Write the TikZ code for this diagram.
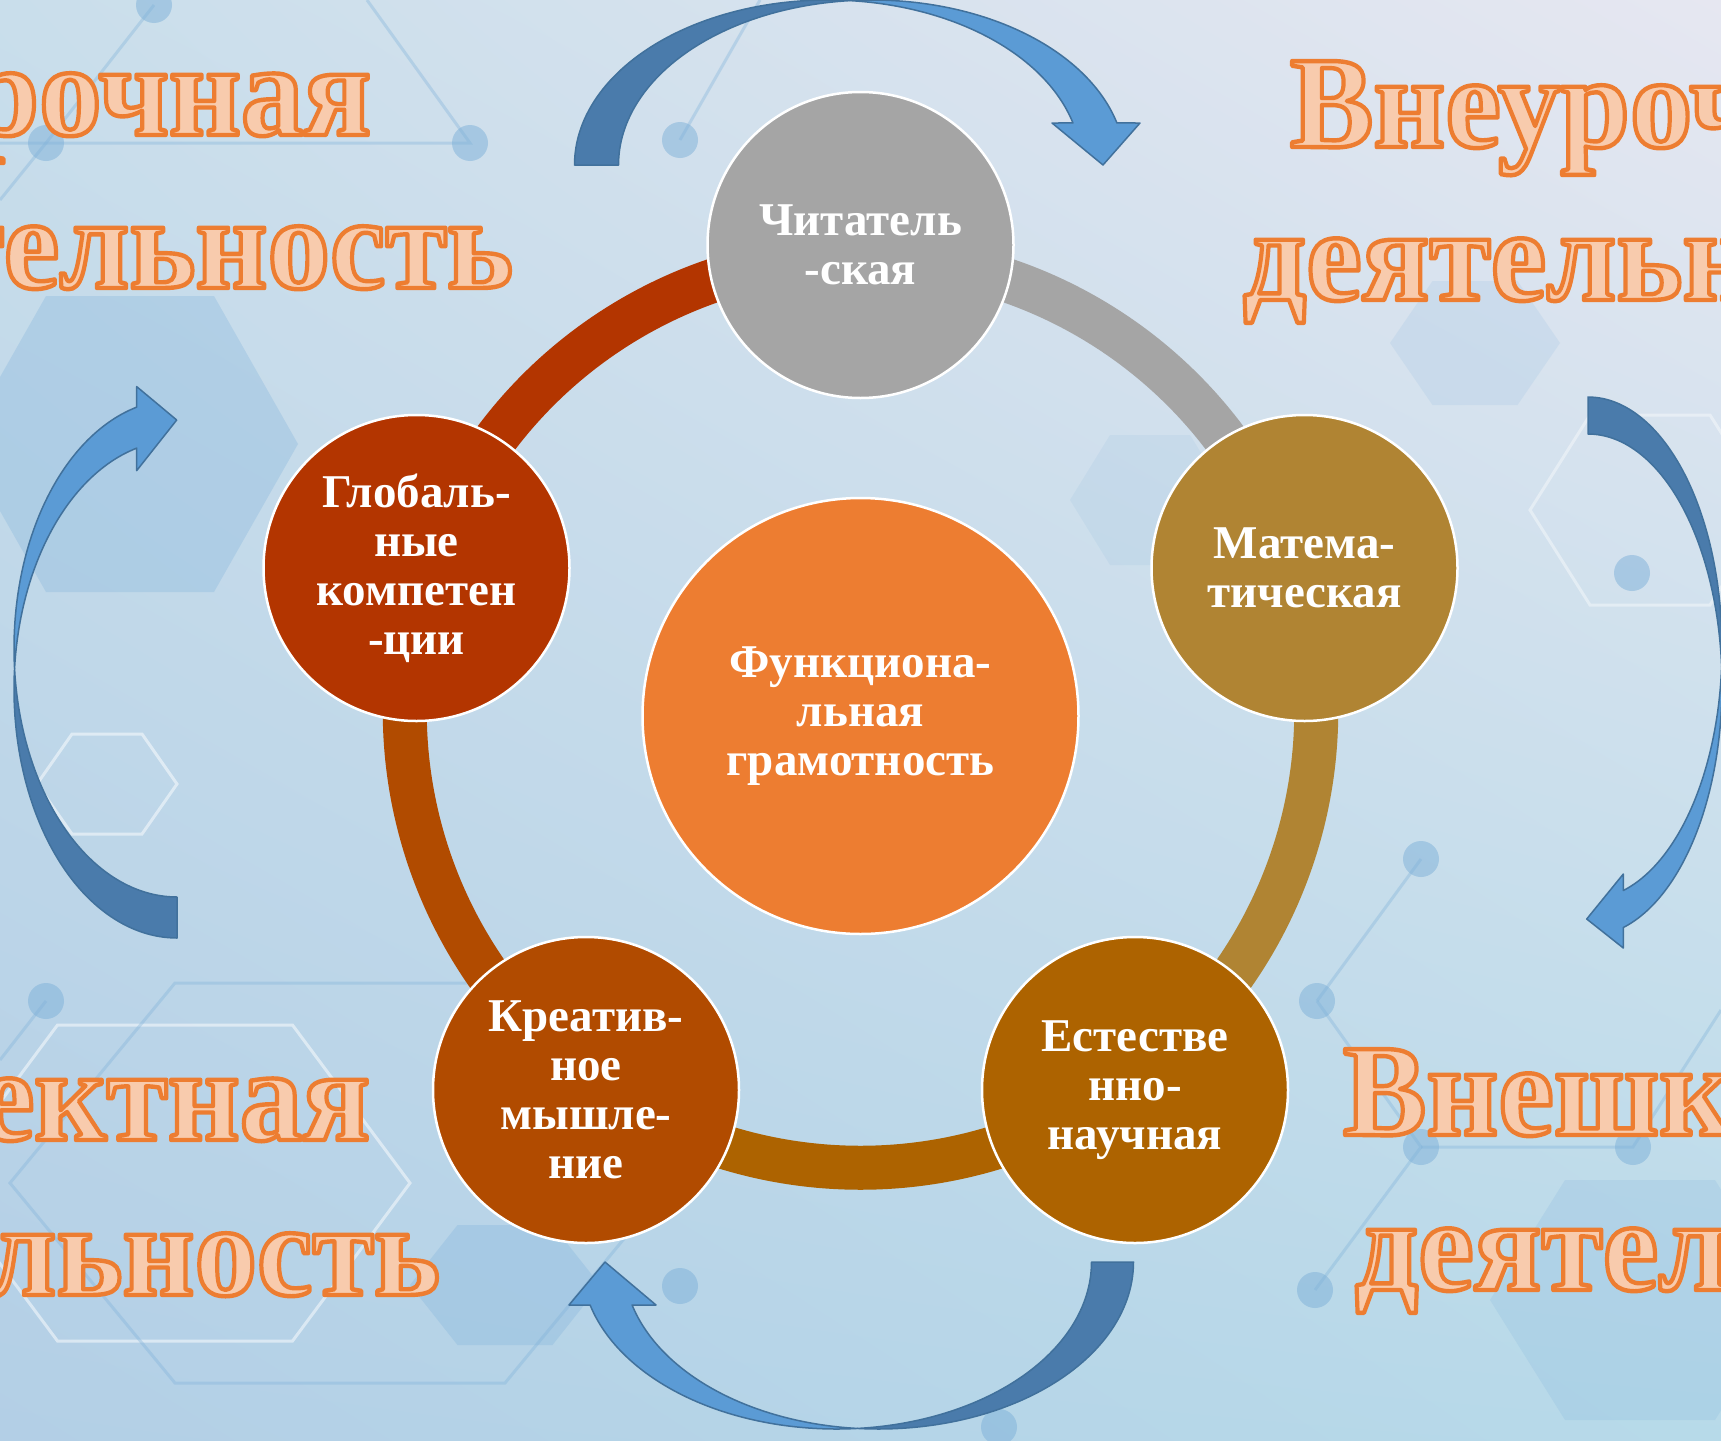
\documentclass[tikz,border=0pt]{standalone}
\usepackage{fontspec}
\usepackage{graphicx}
\setmainfont{Liberation Serif}
\usetikzlibrary{calc,shadings}
\pgfdeclarelayer{bglayer}
\pgfdeclarelayer{ringlayer}
\pgfsetlayers{bglayer,ringlayer,main}
\definecolor{cGray}{HTML}{A5A5A5}
\definecolor{cGold}{HTML}{B08433}
\definecolor{cNat}{HTML}{AD6300}
\definecolor{cCre}{HTML}{B14B00}
\definecolor{cGlob}{HTML}{B33500}
\definecolor{cOrange}{HTML}{ED7D31}
\definecolor{cPeach}{HTML}{F8CBAD}
\definecolor{arrLight}{HTML}{5B9BD5}
\definecolor{arrDark}{HTML}{4A7BAB}
\definecolor{arrBorder}{HTML}{41719C}
\definecolor{bgUL}{HTML}{C9DEEB}
\definecolor{bgUR}{HTML}{E6E7F1}
\definecolor{bgLL}{HTML}{B3CFE6}
\definecolor{bgLR}{HTML}{B7DAE9}
\definecolor{hexBlue}{HTML}{7FB2DB}
\definecolor{netBlue}{HTML}{7EB1D9}
\newcommand\cfnt{\fontsize{47}{49}\selectfont\bfseries}
\newcommand\bfnt{\fontsize{125}{125}\selectfont\bfseries}
\newcommand\otx[1]{\special{pdf:literal direct 0.929 0.490 0.192 RG 4.2 w 1 j 2 Tr}#1\special{pdf:literal direct 0 Tr}}
\newcommand\hexg[5]{\path[#1] ({#2+#4},{#3}) -- ({#2+#4/2},{#3+#5}) -- ({#2-#4/2},{#3+#5}) -- ({#2-#4},{#3}) -- ({#2-#4/2},{#3-#5}) -- ({#2+#4/2},{#3-#5}) -- cycle;}
\begin{document}
\begin{tikzpicture}[x=1pt, y=-1pt,
  bigtxt/.style={inner sep=0pt, outer sep=0pt, font=\bfnt, text=cPeach},
  circnode/.style={circle, draw=white, line width=2.5pt, minimum size=306pt, inner sep=0pt, text=white, font=\cfnt, align=center},
  ringarc/.style={line width=44pt},
  arrdark/.style={fill=arrDark, draw=arrBorder, line width=1.5pt, line join=round},
  arrlight/.style={fill=arrLight, draw=arrBorder, line width=1.5pt, line join=round},
  hexfill/.style={fill=hexBlue, fill opacity=0.3},
  hexline/.style={draw=white, draw opacity=0.5, line width=3pt},
  netline/.style={draw=netBlue, draw opacity=0.35, line width=3pt},
  netdot/.style={fill=netBlue, fill opacity=0.5}]
\useasboundingbox (0,0) rectangle (1721,1440);

\begin{pgfonlayer}{bglayer}
  \shade[upper left=bgUL, upper right=bgUR, lower left=bgLL, lower right=bgLR] (0,0) rectangle (1721,1440);
  \hexg{hexfill}{130}{444}{168}{148}
  \hexg{hexfill}{505}{1285}{95}{60}
  \hexg{hexfill, fill opacity=0.15}{1475}{343}{85}{62}
  \hexg{hexfill, fill opacity=0.2}{1640}{1300}{150}{120}
  \hexg{hexfill, fill opacity=0.12}{1150}{500}{80}{65}
  \hexg{hexline}{107}{784}{70}{50}
  \hexg{hexline}{175}{1183}{235}{158}
  \hexg{hexline, draw opacity=0.4}{1650}{510}{120}{95}
  \hexg{netline}{340}{1183}{330}{200}
  \draw[netline] (0,143) -- (470,143) -- (367,0);
  \draw[netline] (154,5) -- (46,143) -- (0,200);
  \draw[netline] (680,140) -- (760,0);
  \draw[netline] (1317,1001) -- (1421,859);
  \draw[netline] (1421,1147) -- (1633,1147) -- (1721,1010);
  \draw[netline] (1315,1290) -- (1421,1147) -- (1317,1001);
  \draw[netline] (46,1001) -- (0,1060);
  \foreach \px/\py [count=\q] in {154/5, 470/143, 680/140, 46/143, 46/1001, 1317/1001, 1421/859, 1632/573, 680/1286, 999/1427, 1421/1147, 1633/1147, 1315/1290}
    \fill[netdot] (\px,\py) circle[radius=18];
\end{pgfonlayer}

% curved block arrows
\filldraw[arrdark] plot[domain=180:274.98, samples=60] ({827.9+253.4*cos(\x)},{165+165*sin(\x)}) -- plot[domain=265.02:180, samples=60] ({871.9+253.4*cos(\x)},{165+165*sin(\x)}) -- cycle;
\filldraw[arrlight] plot[domain=265.02:345.25, samples=60] ({871.9+253.4*cos(\x)},{165+165*sin(\x)}) -- (1140,123) -- (1103,165) -- (1052,123) -- plot[domain=345.25:274.98, samples=60] ({827.9+253.4*cos(\x)},{165+165*sin(\x)}) -- cycle;

\filldraw[arrdark] plot[domain=0:94.72, samples=60] ({878.5+255*cos(\x)},{1262+167*sin(\x)}) -- plot[domain=85.28:0, samples=60] ({836.5+255*cos(\x)},{1262+167*sin(\x)}) -- cycle;
\filldraw[arrlight] plot[domain=85.28:165.08, samples=60] ({836.5+255*cos(\x)},{1262+167*sin(\x)}) -- (569,1305) -- (605,1262) -- (656,1305) -- plot[domain=165.08:94.72, samples=60] ({878.5+255*cos(\x)},{1262+167*sin(\x)}) -- cycle;

\filldraw[arrdark] plot[domain=90:184.73, samples=60] ({177+163*cos(\x)},{689.2+248.8*sin(\x)}) -- plot[domain=175.27:90, samples=60] ({177+163*cos(\x)},{648.2+248.8*sin(\x)}) -- cycle;
\filldraw[arrlight] plot[domain=175.27:255.69, samples=60] ({177+163*cos(\x)},{648.2+248.8*sin(\x)}) -- (136.7,386.6) -- (176.7,420) -- (136.7,470.6) -- plot[domain=255.69:184.73, samples=60] ({177+163*cos(\x)},{689.2+248.8*sin(\x)}) -- cycle;

\filldraw[arrdark] plot[domain=-90:4.22, samples=60] ({1588+134*cos(\x)},{648.2+251.2*sin(\x)}) -- plot[domain=-4.22:-90, samples=60] ({1588+134*cos(\x)},{685.2+251.2*sin(\x)}) -- cycle;
\filldraw[arrlight] plot[domain=-4.22:74.73, samples=60] ({1588+134*cos(\x)},{685.2+251.2*sin(\x)}) -- (1623.3,948) -- (1586.7,919) -- (1623.3,874) -- plot[domain=74.73:4.22, samples=60] ({1588+134*cos(\x)},{648.2+251.2*sin(\x)}) -- cycle;

% big outlined titles
\node[bigtxt, anchor=base east] (tlA) at (371,135) {\scalebox{1}[1.05]{\otx{Урочная}}};
\node[bigtxt, anchor=base east] (tlB) at (513,288) {\scalebox{1}[1.05]{\otx{деятельность}}};
\node[bigtxt, anchor=base west] (trA) at (1290,147) {\scalebox{1}[1.05]{\otx{Внеурочная}}};
\node[bigtxt, anchor=base west] (trB) at (1243,300) {\scalebox{1}[1.05]{\otx{деятельность}}};
\node[bigtxt, anchor=base east] (blA) at (370,1140) {\scalebox{1}[1.05]{\otx{Проектная}}};
\node[bigtxt, anchor=base east] (blB) at (440,1295) {\scalebox{1}[1.05]{\otx{деятельность}}};
\node[bigtxt, anchor=base west] (brA) at (1343,1135) {\scalebox{1}[1.05]{\otx{Внешкольная}}};
\node[bigtxt, anchor=base west] (brB) at (1355,1290) {\scalebox{1}[1.05]{\otx{деятельность}}};

% nodes
\node[circnode, fill=cOrange, minimum size=436pt] (nC) at (860.5,716) {Функциона-\\льная\\грамотность};
\node[circnode, fill=cGray] (nT) at (860.5,245) {Читатель\\-ская};
\node[circnode, fill=cGold] (nR) at (1304.5,568) {Матема-\\тическая};
\node[circnode, fill=cNat] (nBR) at (1135,1090) {Естестве\\нно-\\научная};
\node[circnode, fill=cCre] (nBL) at (586,1090) {Креатив-\\ное\\мышле-\\ние};
\node[circnode, fill=cGlob] (nL) at (416.5,568) {Глобаль-\\ные\\компетен\\-ции};

\begin{pgfonlayer}{ringlayer}
  \draw[ringarc, cGray] ($(nT.center)!11pt!(nC.center)$) to[bend left=36, looseness=0.94] ($(nR.center)!11pt!(nC.center)$);
  \draw[ringarc, cGold] ($(nR.center)!11pt!(nC.center)$) to[bend left=36, looseness=0.94] ($(nBR.center)!11pt!(nC.center)$);
  \draw[ringarc, cNat] ($(nBR.center)!11pt!(nC.center)$) to[bend left=36, looseness=0.94] ($(nBL.center)!11pt!(nC.center)$);
  \draw[ringarc, cCre] ($(nBL.center)!11pt!(nC.center)$) to[bend left=36, looseness=0.94] ($(nL.center)!11pt!(nC.center)$);
  \draw[ringarc, cGlob] ($(nL.center)!11pt!(nC.center)$) to[bend left=36, looseness=0.94] ($(nT.center)!11pt!(nC.center)$);
\end{pgfonlayer}
\end{tikzpicture}
\end{document}
